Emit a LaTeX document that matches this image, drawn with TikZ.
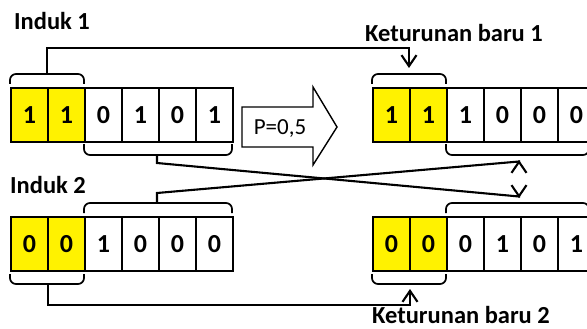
\documentclass[tikz,border=0pt]{standalone}
\usepackage{fontspec}
\setmainfont{Carlito}
\usetikzlibrary{arrows.meta}
\tikzset{
  cell/.style={draw, line width=1.7pt, minimum width=37pt, minimum height=54pt, inner sep=0pt, anchor=north west, font=\fontsize{26}{28}\selectfont\bfseries},
  ycell/.style={cell, fill=yellow},
  lbl/.style={anchor=base, inner sep=0pt, font=\fontsize{24.5}{28}\selectfont\bfseries},
  brk/.style={line width=1.7pt, rounded corners=6pt},
  conn/.style={line width=2.1pt, -{Straight Barb[length=11pt,width=15pt,line width=2.1pt]}},
}
\begin{document}
\begin{tikzpicture}[x=1pt,y=-1pt]
\useasboundingbox (0,0) rectangle (587,329);
\clip (0,0) rectangle (587,329);
% labels
\node[lbl] (i1) at (52,30) {Induk 1};
\node[lbl] (i2) at (48,193) {Induk 2};
\node[lbl] (k1) at (454,42) {Keturunan baru 1};
\node[lbl] (k2) at (461,323) {Keturunan baru 2};
% rows
\foreach \v [count=\i from 0] in {1,1,0,1,0,1} {
  \ifnum\i<2 \node[ycell] (a\i) at (10+37*\i,87) {\v}; \else \node[cell] (a\i) at (10+37*\i,87) {\v}; \fi
}
\foreach \v [count=\i from 0] in {0,0,1,0,0,0} {
  \ifnum\i<2 \node[ycell] (b\i) at (10+37*\i,216) {\v}; \else \node[cell] (b\i) at (10+37*\i,216) {\v}; \fi
}
\foreach \v [count=\i from 0] in {1,1,1,0,0,0} {
  \ifnum\i<2 \node[ycell] (c\i) at (372+37*\i,87) {\v}; \else \node[cell] (c\i) at (372+37*\i,87) {\v}; \fi
}
\foreach \v [count=\i from 0] in {0,0,0,1,0,1} {
  \ifnum\i<2 \node[ycell] (d\i) at (372+37*\i,216) {\v}; \else \node[cell] (d\i) at (372+37*\i,216) {\v}; \fi
}
% brackets
\draw[brk] (10,84) -- (10,74) -- (84,74) -- (84,84);
\draw[brk] (84,144) -- (84,155) -- (232,155) -- (232,144);
\draw[brk] (84,213) -- (84,203) -- (232,203) -- (232,213);
\draw[brk] (10,274) -- (10,284) -- (84,284) -- (84,274);
\draw[brk] (372,84) -- (372,74) -- (446,74) -- (446,84);
\draw[brk] (446,144) -- (446,155) -- (589,155) -- (589,144);
\draw[brk] (446,213) -- (446,203) -- (589,203) -- (589,213);
\draw[brk] (372,274) -- (372,284) -- (446,284) -- (446,274);
% bracket anchor points
\coordinate (a1s) at (47,74);
\coordinate (awhite) at (157,155);
\coordinate (bwhite) at (157,203);
\coordinate (b1s) at (48,284);
\coordinate (c1t) at (409,68);
\coordinate (cwhite) at (519,160);
\coordinate (dwhite) at (519,198);
\coordinate (d1t) at (410,289);
% connectors
\draw[conn] (a1s) |- (409,48) -- (c1t);
\draw[conn] (awhite) -- (157,163) -- (519,196.5) -- (dwhite);
\draw[conn] (bwhite) -- (157,193) -- (519,161.5) -- (cwhite);
\draw[conn] (b1s) |- (410,305) -- (d1t);
% big arrow
\draw[line width=1.4pt, line join=miter] (242,107) -- (313,107) -- (313,87) -- (337,127) -- (313,165) -- (313,147) -- (242,147) -- cycle;
\node[anchor=base, inner sep=0pt, font=\fontsize{23}{26}\selectfont] (p) at (280,135) {P=0,5};
\end{tikzpicture}
\end{document}
